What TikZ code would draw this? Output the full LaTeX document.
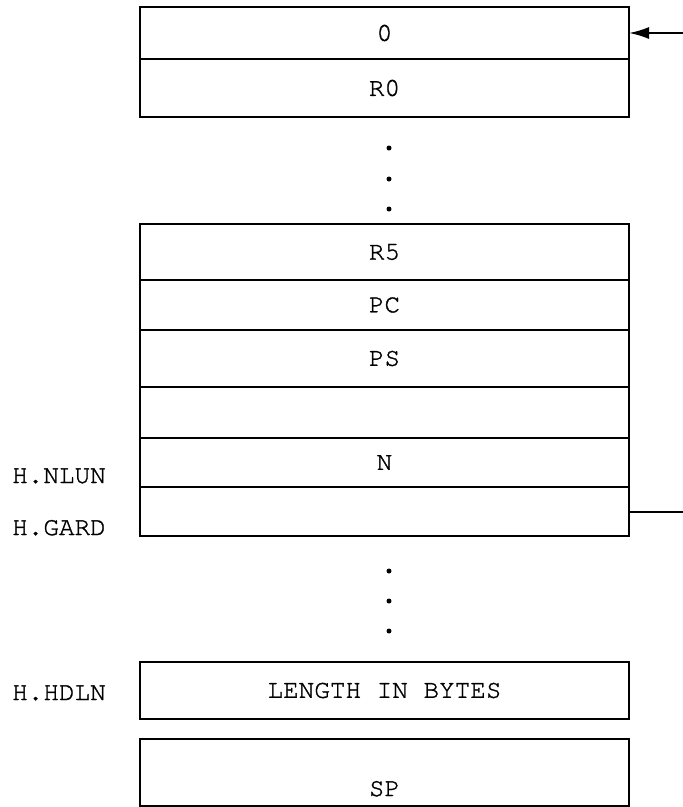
\documentclass[tikz,border=0pt]{standalone}
\usepackage{fontspec}
\setmonofont{texgyrecursor-regular.otf}[FakeBold=1.2]
\usepackage{tikz}
\usetikzlibrary{arrows.meta,positioning}
\newcommand\regfont{\ttfamily\fontsize{26}{26}\selectfont}
\tikzset{ %inner sep = 0,
  >={Latex[length=20pt,width=12pt]},
  {cell/.style} ={rectangle, draw, line width=2pt, minimum width=489pt,
                  inner sep=0, outer sep=0, font=\regfont},
  {dot/.style} ={circle, fill=black, inner sep=0, minimum size=5pt},
  {tag/.style} ={anchor=base west, inner sep=0, font=\regfont},
  {wire/.style} ={draw, line width=2pt},
 }

\begin{document}
\begin{tikzpicture}[x=1pt,y=-1pt]
\useasboundingbox (0,0) rectangle (683,807);

% saved registers
\node[cell, minimum height=52pt] (zero) at (384.5,33) {0};
\node[cell, minimum height=58pt, below=0pt of zero] (r0) {R0};

\foreach \y in {148,179,209}
  \node[dot] (top\y) at (389,\y) {};

\node[cell, minimum height=56pt] (r5) at (384.5,252) {R5};
\node[cell, minimum height=50pt, below=0pt of r5] (pc) {PC};
\node[cell, minimum height=57pt, below=0pt of pc] (ps) {PS};
\node[cell, minimum height=51pt, below=0pt of ps] (free) {};
\node[cell, minimum height=49pt, below=0pt of free] (nlun) {N};
\node[cell, minimum height=49pt, below=0pt of nlun] (gard) {};

\foreach \y in {571,601,631}
  \node[dot] (mid\y) at (389,\y) {};

\node[cell, minimum height=57pt] (hdln) at (384.5,690.5) {LENGTH IN BYTES};
\node[cell, minimum height=67pt, text height=50pt, text depth=3pt]
  (sp) at (384.5,772.5) {SP};

% offsets
\node[tag] (lnlun) at (12,483) {H.NLUN};
\node[tag] (lgard) at (12,535) {H.GARD};
\node[tag] (lhdln) at (12,700) {H.HDLN};

% links
\coordinate (in) at (683,33);
\coordinate (out) at (683,511.5);
\draw[wire,->] (in) -- (zero.east);
\draw[wire] (gard.east) -- (out);
\end{tikzpicture}
\end{document}
